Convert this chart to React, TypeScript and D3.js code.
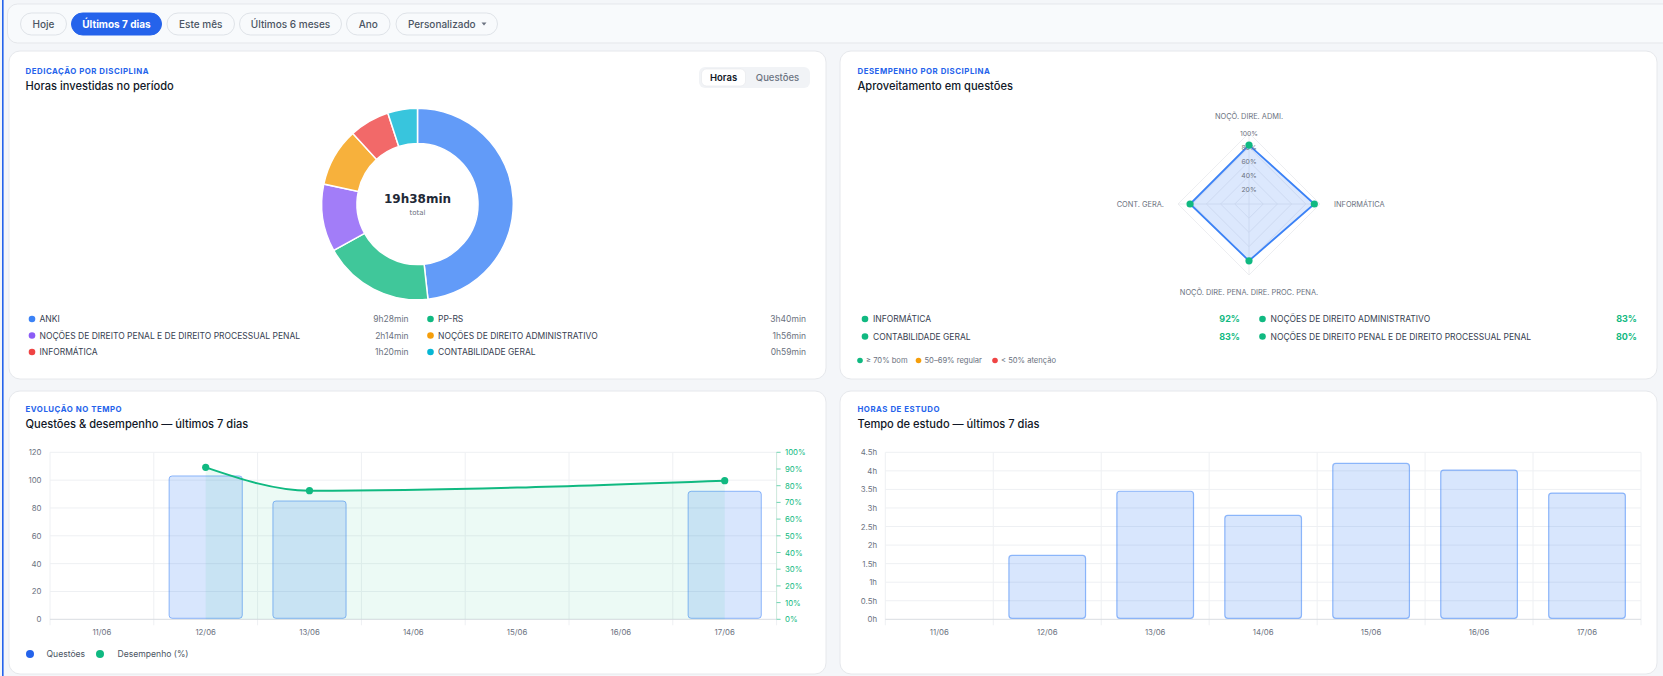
import React from "react";
import * as d3 from "d3";

const W = 1663;
const H = 676;
const FONT = "Inter, 'Noto Sans', sans-serif";

// filtros de período
const periodos = ["Hoje", "Últimos 7 dias", "Este mês", "Últimos 6 meses", "Ano", "Personalizado"];
const periodoAtivo = "Últimos 7 dias";

// dedicação por disciplina (minutos)
const disciplinas = [
  "ANKI",
  "PP-RS",
  "NOÇÕES DE DIREITO PENAL E DE DIREITO PROCESSUAL PENAL",
  "NOÇÕES DE DIREITO ADMINISTRATIVO",
  "INFORMÁTICA",
  "CONTABILIDADE GERAL",
];
const minutos = [568, 220, 134, 116, 80, 59];
const minutosLabel = ["9h28min", "3h40min", "2h14min", "1h56min", "1h20min", "0h59min"];
const coresDisciplina = ["#3b82f6", "#10b981", "#8b5cf6", "#f59e0b", "#ef4444", "#06b6d4"];
const totalLabel = "19h38min";

// desempenho por disciplina (radar)
const radarEixos = ["NOÇÕ. DIRE. ADMI.", "INFORMÁTICA", "NOÇÕ. DIRE. PENA. DIRE. PROC. PENA.", "CONT. GERA."];
const radarValores = [83, 92, 80, 83];
const radarTicks = [20, 40, 60, 80, 100];
const desempenhoNomes = [
  "INFORMÁTICA",
  "NOÇÕES DE DIREITO ADMINISTRATIVO",
  "CONTABILIDADE GERAL",
  "NOÇÕES DE DIREITO PENAL E DE DIREITO PROCESSUAL PENAL",
];
const desempenhoValores = [92, 83, 83, 80];

// evolução diária
const dias = ["11/06", "12/06", "13/06", "14/06", "15/06", "16/06", "17/06"];
const questoes = [0, 103, 85, 0, 0, 0, 92];
const desempenho: (number | null)[] = [null, 91, 77, null, null, null, 83];
const horas = [0, 1.72, 3.45, 2.8, 4.2, 4.02, 3.4];
const questoesTicks = [0, 20, 40, 60, 80, 100, 120];
const pctTicks = [0, 10, 20, 30, 40, 50, 60, 70, 80, 90, 100];
const horasTicks = [0, 0.5, 1, 1.5, 2, 2.5, 3, 3.5, 4, 4.5];

// layout dos botões (x inicial, x final)
const botoesX = [
  [20.5, 66.5],
  [71.5, 161.5],
  [167, 234.5],
  [239.5, 341.5],
  [346.5, 390],
  [396, 497.5],
];

const GRID = "#eef0f3";
const AXIS_TXT = "#6b7280";

function CardHeader({ x, y, label, title }: { x: number; y: number; label: string; title: string }) {
  return (
    <g>
      <text x={x} y={y} fontSize={7.8} fontWeight={700} fill="#2563eb" letterSpacing={0.55}>
        {label}
      </text>
      <text x={x} y={y + 16} fontSize={11.1} fontWeight={500} fill="#111827">
        {title}
      </text>
    </g>
  );
}

function Card({ x, y, w, h }: { x: number; y: number; w: number; h: number }) {
  return <rect x={x} y={y} width={w} height={h} rx={11} fill="#ffffff" stroke="#e6e8ec" />;
}

function TopBar() {
  return (
    <g>
      <rect x={7.5} y={4} width={1700} height={39} rx={10} fill="#f8fafc" stroke="#e5e7eb" />
      {periodos.map((p, i) => {
        const [x0, x1] = botoesX[i];
        const ativo = p === periodoAtivo;
        const isCustom = p === "Personalizado";
        return (
          <g key={p}>
            <rect
              x={x0}
              y={13}
              width={x1 - x0}
              height={22}
              rx={11}
              fill={ativo ? "#2563eb" : "#f8fafc"}
              stroke={ativo ? "#2563eb" : "#dfe3e8"}
            />
            <text
              x={isCustom ? (x0 + x1) / 2 - 5 : (x0 + x1) / 2}
              y={27.5}
              textAnchor="middle"
              fontSize={10}
              fontWeight={ativo ? 700 : 500}
              fill={ativo ? "#ffffff" : "#4b5563"}
            >
              {p}
            </text>
            {isCustom && (
              <path d={`M${x1 - 16},22.5 l5,0 l-2.5,3 z`} fill="#6b7280" />
            )}
          </g>
        );
      })}
    </g>
  );
}

function DonutCard() {
  const cx = 417.5;
  const cy = 204;
  const pie = d3.pie<number>().sort(null).value((d) => d);
  const arcs = pie(minutos);
  const arc = d3.arc<d3.PieArcDatum<number>>().innerRadius(60.5).outerRadius(95.8);
  const col1 = 31.5;
  const col2 = 430;
  const rowsY = [319, 335.5, 352];
  return (
    <g>
      <Card x={9} y={51} w={817} h={328} />
      <CardHeader x={25.5} y={74} label="DEDICAÇÃO POR DISCIPLINA" title="Horas investidas no período" />
      {/* toggle */}
      <rect x={699} y={67} width={111} height={21} rx={6} fill="#f1f3f6" />
      <rect x={701.5} y={69} width={44} height={17} rx={5} fill="#ffffff" stroke="#e5e7eb" strokeWidth={0.6} />
      <text x={723.5} y={80.8} textAnchor="middle" fontSize={9.5} fontWeight={600} fill="#111827">Horas</text>
      <text x={777.5} y={80.8} textAnchor="middle" fontSize={9.5} fontWeight={500} fill="#6b7280">Questões</text>
      <g transform={`translate(${cx},${cy})`}>
        {arcs.map((a, i) => (
          <path key={i} d={arc(a) || ""} fill={coresDisciplina[i]} fillOpacity={0.8} stroke="#ffffff" strokeWidth={1.5} />
        ))}
        <text y={-1} textAnchor="middle" fontSize={12} fontWeight={700} fill="#1f2937" fontFamily="'DejaVu Sans', sans-serif">
          {totalLabel}
        </text>
        <text y={10.5} textAnchor="middle" fontSize={7} fill="#6b7280" fontFamily="'DejaVu Sans', sans-serif">total</text>
      </g>
      {disciplinas.map((d, i) => {
        const col = i % 2 === 0 ? col1 : col2;
        const right = i % 2 === 0 ? 408.5 : 806;
        const y = rowsY[Math.floor(i / 2)];
        return (
          <g key={d}>
            <circle cx={col + 0.5} cy={y} r={3.3} fill={coresDisciplina[i]} />
            <text x={col + 8} y={y + 3} fontSize={8.5} fill="#374151">{d}</text>
            <text x={right} y={y + 3} textAnchor="end" fontSize={8.5} fill="#6b7280">{minutosLabel[i]}</text>
          </g>
        );
      })}
    </g>
  );
}

function RadarCard() {
  const cx = 1249;
  const cy = 204;
  const r = d3.scaleLinear().domain([0, 100]).range([0, 71]);
  const angle = (i: number) => (i * 2 * Math.PI) / radarEixos.length;
  const pt = (i: number, v: number) => [cx + Math.sin(angle(i)) * r(v), cy - Math.cos(angle(i)) * r(v)];
  const poly = (v: number[]) => d3.line().curve(d3.curveLinearClosed)(v.map((val, i) => pt(i, val) as [number, number])) || "";
  const labelOff = 14;
  const rowsY = [319, 336.5];
  const legenda = [
    { c: "#10b981", t: "≥ 70% bom" },
    { c: "#f59e0b", t: "50–69% regular" },
    { c: "#ef4444", t: "< 50% atenção" },
  ];
  const legX = [860, 918.5, 995];
  return (
    <g>
      <Card x={840} y={51} w={817} h={328} />
      <CardHeader x={857.5} y={74} label="DESEMPENHO POR DISCIPLINA" title="Aproveitamento em questões" />
      {radarTicks.map((t) => (
        <path key={t} d={poly(radarEixos.map(() => t))} fill="none" stroke="#e8eaee" strokeWidth={0.8} />
      ))}
      {radarEixos.map((_, i) => {
        const [x, y] = pt(i, 100);
        return <line key={i} x1={cx} y1={cy} x2={x} y2={y} stroke="#e8eaee" strokeWidth={0.8} />;
      })}
      <path d={poly(radarValores)} fill="#3b82f6" fillOpacity={0.18} stroke="#3b82f6" strokeWidth={1.8} />
      {radarTicks.map((t) => (
        <text key={t} x={cx} y={cy - r(t) + 2.5} textAnchor="middle" fontSize={6.8} fill={AXIS_TXT}>
          {t}%
        </text>
      ))}
      {radarValores.map((v, i) => {
        const [x, y] = pt(i, v);
        return <circle key={i} cx={x} cy={y} r={3.6} fill="#10b981" />;
      })}
      {radarEixos.map((e, i) => {
        const [x, y] = pt(i, 100);
        const s = Math.sin(angle(i));
        const c = Math.cos(angle(i));
        const anchor = Math.abs(s) < 0.01 ? "middle" : s > 0 ? "start" : "end";
        return (
          <text
            key={e}
            x={x + s * labelOff}
            y={y - c * labelOff + (c > 0.5 ? 0 : c < -0.5 ? 6 : 2.5)}
            textAnchor={anchor}
            fontSize={7.4}
            fill={AXIS_TXT}
          >
            {e}
          </text>
        );
      })}
      {desempenhoNomes.map((d, i) => {
        const col = i % 2 === 0 ? 865 : 1262.5;
        const right = i % 2 === 0 ? 1240 : 1637;
        const y = rowsY[Math.floor(i / 2)];
        return (
          <g key={d}>
            <circle cx={col} cy={y} r={3.3} fill="#10b981" />
            <text x={col + 8} y={y + 3} fontSize={8.5} fill="#374151">{d}</text>
            <text x={right} y={y + 3} textAnchor="end" fontSize={9} fontWeight={700} fill="#10b981">
              {desempenhoValores[i]}%
            </text>
          </g>
        );
      })}
      {legenda.map((l, i) => (
        <g key={l.t}>
          <circle cx={legX[i]} cy={360.5} r={2.8} fill={l.c} />
          <text x={legX[i] + 6} y={363} fontSize={7.6} fill="#6b7280">{l.t}</text>
        </g>
      ))}
    </g>
  );
}

function XAxisGrid({ x, y0, y1, left, right }: { x: d3.ScaleBand<string>; y0: number; y1: number; left: number; right: number }) {
  const bounds = dias.map((d) => x(d) as number).concat([right]);
  return (
    <g>
      {bounds.map((b, i) => (
        <line key={i} x1={b} x2={b} y1={y1} y2={y0 + 6} stroke={GRID} strokeWidth={1} />
      ))}
      <line x1={left} x2={right} y1={y0} y2={y0} stroke="#d9dce1" strokeWidth={1} />
      {dias.map((d) => (
        <text key={d} x={(x(d) as number) + x.bandwidth() / 2} y={635} textAnchor="middle" fontSize={7.8} fill={AXIS_TXT}>
          {d}
        </text>
      ))}
    </g>
  );
}

function EvolucaoCard() {
  const left = 50;
  const right = 776.6;
  const y0 = 619.3;
  const y1 = 452.3;
  const x = d3.scaleBand().domain(dias).range([left, right]);
  const yQ = d3.scaleLinear().domain([0, 120]).range([y0, y1]);
  const yP = d3.scaleLinear().domain([0, 100]).range([y0, y1]);
  const bw = x.bandwidth() * 0.705;
  const cxOf = (d: string) => (x(d) as number) + x.bandwidth() / 2;
  const pts = dias
    .map((d, i) => ({ d, v: desempenho[i] }))
    .filter((p) => p.v !== null) as { d: string; v: number }[];
  const line = d3.line<{ d: string; v: number }>().x((p) => cxOf(p.d)).y((p) => yP(p.v)).curve(d3.curveMonotoneX);
  const area = d3
    .area<{ d: string; v: number }>()
    .x((p) => cxOf(p.d))
    .y0(y0)
    .y1((p) => yP(p.v))
    .curve(d3.curveMonotoneX);
  return (
    <g>
      <Card x={9} y={391} w={817} h={283} />
      <CardHeader x={25.5} y={412} label="EVOLUÇÃO NO TEMPO" title="Questões & desempenho — últimos 7 dias" />
      {questoesTicks.map((t) => (
        <g key={t}>
          {t > 0 && <line x1={left} x2={right} y1={yQ(t)} y2={yQ(t)} stroke={GRID} />}
          <text x={41.5} y={yQ(t) + 3} textAnchor="end" fontSize={7.8} fill={AXIS_TXT}>{t}</text>
        </g>
      ))}
      <XAxisGrid x={x} y0={y0} y1={y1} left={left} right={right} />
      {/* eixo direito */}
      <line x1={right} x2={right} y1={y1} y2={y0} stroke="#cfe9dd" />
      {pctTicks.map((t) => (
        <g key={t}>
          <line x1={right} x2={right + 4} y1={yP(t)} y2={yP(t)} stroke="#10b981" strokeOpacity={0.6} />
          <text x={785} y={yP(t) + 3} fontSize={7.8} fill="#10b981">{t}%</text>
        </g>
      ))}
      {dias.map((d, i) =>
        questoes[i] > 0 ? (
          <rect
            key={d}
            x={cxOf(d) - bw / 2}
            y={yQ(questoes[i])}
            width={bw}
            height={y0 - 1 - yQ(questoes[i])}
            rx={3}
            fill="#3b82f6"
            fillOpacity={0.2}
            stroke="#3b82f6"
            strokeOpacity={0.55}
            strokeWidth={1}
          />
        ) : null
      )}
      <path d={area(pts) || ""} fill="#10b981" fillOpacity={0.08} />
      <path d={line(pts) || ""} fill="none" stroke="#10b981" strokeWidth={2} />
      {pts.map((p) => (
        <circle key={p.d} cx={cxOf(p.d)} cy={yP(p.v)} r={3.6} fill="#10b981" />
      ))}
      {/* legenda */}
      <circle cx={30} cy={654} r={4} fill="#2563eb" />
      <text x={46.5} y={657} fontSize={8.6} fill="#4b5563">Questões</text>
      <circle cx={100} cy={654} r={4} fill="#10b981" />
      <text x={117.5} y={657} fontSize={8.6} fill="#4b5563">Desempenho (%)</text>
    </g>
  );
}

function HorasCard() {
  const left = 885.3;
  const right = 1641;
  const y0 = 619.3;
  const y1 = 452.3;
  const x = d3.scaleBand().domain(dias).range([left, right]);
  const y = d3.scaleLinear().domain([0, 4.5]).range([y0, y1]);
  const bw = x.bandwidth() * 0.71;
  const cxOf = (d: string) => (x(d) as number) + x.bandwidth() / 2;
  return (
    <g>
      <Card x={840} y={391} w={817} h={283} />
      <CardHeader x={857.5} y={412} label="HORAS DE ESTUDO" title="Tempo de estudo — últimos 7 dias" />
      {horasTicks.map((t) => (
        <g key={t}>
          {t > 0 && <line x1={left} x2={right} y1={y(t)} y2={y(t)} stroke={GRID} />}
          <text x={877} y={y(t) + 3} textAnchor="end" fontSize={7.8} fill={AXIS_TXT}>{`${t}h`}</text>
        </g>
      ))}
      <XAxisGrid x={x} y0={y0} y1={y1} left={left} right={right} />
      {dias.map((d, i) =>
        horas[i] > 0 ? (
          <rect
            key={d}
            x={cxOf(d) - bw / 2}
            y={y(horas[i])}
            width={bw}
            height={y0 - 1 - y(horas[i])}
            rx={3}
            fill="#3b82f6"
            fillOpacity={0.2}
            stroke="#3b82f6"
            strokeOpacity={0.55}
            strokeWidth={1.2}
          />
        ) : null
      )}
    </g>
  );
}

export default function App() {
  return (
    <svg
      width={W}
      height={H}
      style={{ position: "absolute", left: 0, top: 0, display: "block" }}
      fontFamily={FONT}
    >
      <rect width={W} height={H} fill="#f4f6f9" />
      <TopBar />
      <DonutCard />
      <RadarCard />
      <EvolucaoCard />
      <HorasCard />
      <rect x={2} y={0} width={1.6} height={H} fill="#2563eb" />
    </svg>
  );
}
